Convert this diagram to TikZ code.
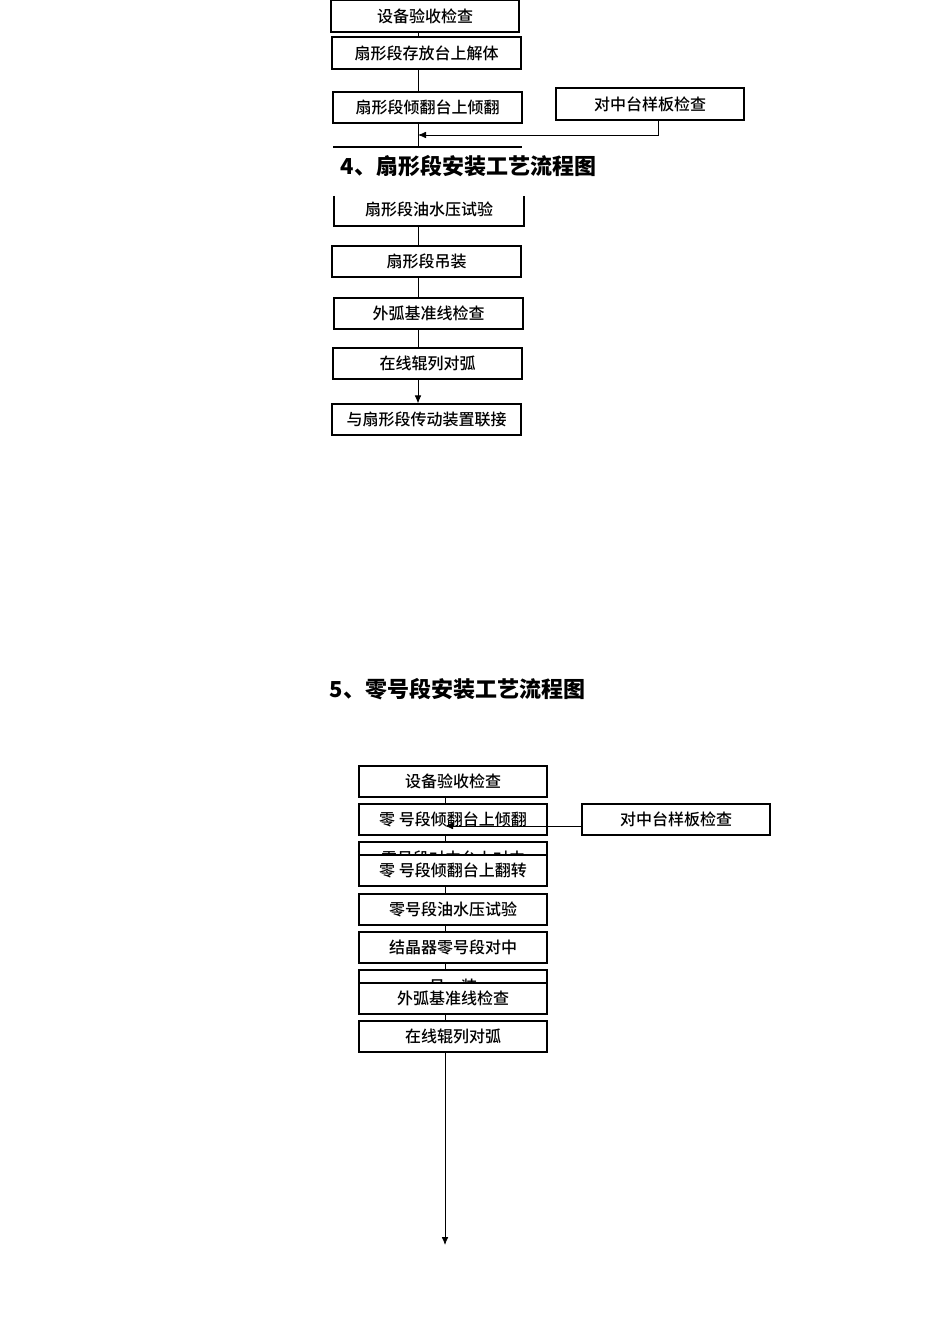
\documentclass[tikz,border=0pt]{standalone}
\usepackage{fontspec}
\setmainfont{Liberation Serif}
\newfontfamily\cjk{Noto Sans CJK SC}
\newfontfamily\cjkb{Noto Sans CJK SC Medium}
\begin{document}
\begin{tikzpicture}[x=0.75pt,y=-0.75pt,
  bx/.style={draw,line width=0.9pt,fill=white,inner sep=0pt,font=\cjkb\fontsize{12}{12}\selectfont},
  ln/.style={line width=0.6pt},
  ar/.style={line width=0.6pt,-{Latex[length=6pt,width=5pt]}}]
\usetikzlibrary{arrows.meta}
\useasboundingbox[fill=white] (0,0) rectangle (950,1344);
% top chart
\draw[ln] (418,0) -- (418,147);
\draw[ln] (418,226) -- (418,348);
\node[bx,minimum width=188*0.75pt,minimum height=32*0.75pt] (a1) at (425,16) {设备验收检查};
\node[bx,minimum width=189*0.75pt,minimum height=32*0.75pt] (a2) at (426.5,53) {扇形段存放台上解体};
\node[bx,minimum width=189*0.75pt,minimum height=31*0.75pt] (a3) at (427.5,107.5) {扇形段倾翻台上倾翻};
\node[bx,minimum width=188*0.75pt,minimum height=32*0.75pt] (b1) at (650,104) {对中台样板检查};
\coordinate (j1) at (418,135);
\draw[ar] (658,120) |- (j1);
\draw[line width=0.9pt] (333,147) coordinate (t1) -- (522,147) coordinate (t2);
\node[font=\cjk\bfseries\fontsize{16.5}{16.5}\selectfont,anchor=west] (h4) at (336,166) {\textbf{4}、扇形段安装工艺流程图};
\draw[line width=0.9pt,fill=white] (334,196) -- (334,226) -- (524,226) -- (524,196);
\node[font=\cjkb\fontsize{12}{12}\selectfont] (a4) at (429,209) {扇形段油水压试验};
\node[bx,minimum width=189*0.75pt,minimum height=31*0.75pt] (a5) at (426.5,261.5) {扇形段吊装};
\node[bx,minimum width=189*0.75pt,minimum height=31*0.75pt] (a6) at (428.5,313.5) {外弧基准线检查};
\node[bx,minimum width=189*0.75pt,minimum height=31*0.75pt] (a7) at (427.5,363.5) {在线辊列对弧};
\node[bx,minimum width=189*0.75pt,minimum height=31*0.75pt] (a8) at (426.5,419.5) {与扇形段传动装置联接};
\draw[ar] (418,379) -- (a8.north -| 418,0);
% title 5
\node[font=\cjk\bfseries\fontsize{16.5}{16.5}\selectfont,anchor=west] (h5) at (325,689) {\textbf{5}、零号段安装工艺流程图};
% bottom chart
\coordinate (e) at (445,1245);
\draw[ar] (445,797) -- (e);
\tikzset{bb/.style={bx,minimum width=188*0.75pt,minimum height=31*0.75pt}}
\node[bb] (c1) at (453,781.5) {设备验收检查};
\node[bb] (c2) at (453,819.5) {零\ 号段倾翻台上倾翻};
\node[bb] (d1) at (676,819.5) {对中台样板检查};
\coordinate (j2) at (445,826);
\draw[ar] (582,826) -- (j2);
\node[bb] (c3) at (453,857.5) {};
\node[font=\cjkb\fontsize{12}{12}\selectfont] at (453,858) {零号段对中台上对中};
\node[bb] (c4) at (453,870.5) {零\ 号段倾翻台上翻转};
\node[bb] (c5) at (453,909.5) {零号段油水压试验};
\node[bb] (c6) at (453,947.5) {结晶器零号段对中};
\node[bb] (c7) at (453,985.5) {};
\node[font=\cjkb\fontsize{12}{12}\selectfont] at (453,986) {吊\quad 装};
\node[bb] (c8) at (453,998.5) {外弧基准线检查};
\node[bb] (c9) at (453,1036.5) {在线辊列对弧};
\end{tikzpicture}
\end{document}
